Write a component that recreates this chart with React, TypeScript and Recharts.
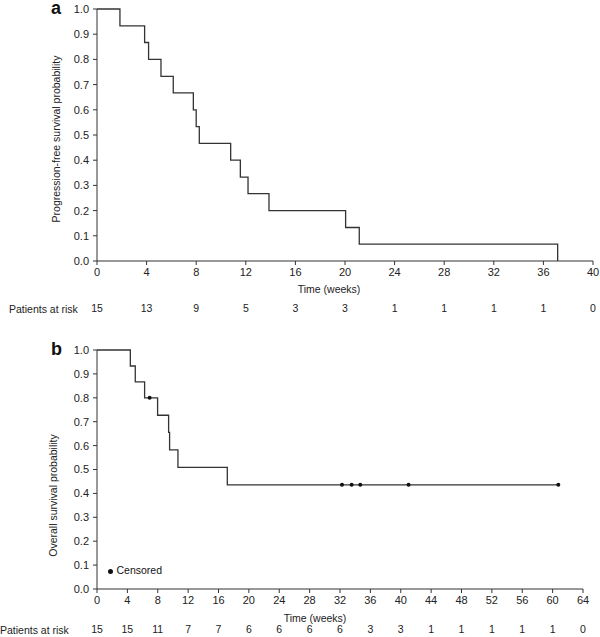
import { ComposedChart, Line, Scatter, XAxis, YAxis, Legend, Label } from "recharts";

// panel a: progression-free survival
const pfsTime = [0, 1.85, 3.84, 4.16, 5.16, 6.15, 7.77, 8.0, 8.25, 10.78, 11.56, 12.18, 13.87, 20.05, 21.15, 37.15];
const pfsSurv = [1, 0.933, 0.867, 0.8, 0.733, 0.667, 0.6, 0.533, 0.467, 0.4, 0.333, 0.267, 0.2, 0.133, 0.067, 0];
const pfsTicks = [0, 4, 8, 12, 16, 20, 24, 28, 32, 36, 40];
const pfsAtRisk = [15, 13, 9, 5, 3, 3, 1, 1, 1, 1, 0];

// panel b: overall survival
const osTime = [0, 4.39, 5.04, 6.27, 7.98, 9.43, 9.56, 10.66, 17.16, 60.75];
const osSurv = [1, 0.933, 0.867, 0.8, 0.727, 0.655, 0.582, 0.509, 0.436, 0.436];
const osCensorTime = [6.93, 32.26, 33.53, 34.67, 41.03, 60.75];
const osCensorSurv = [0.8, 0.436, 0.436, 0.436, 0.436, 0.436];
const osTicks = [0, 4, 8, 12, 16, 20, 24, 28, 32, 36, 40, 44, 48, 52, 56, 60, 64];
const osAtRisk = [15, 15, 11, 7, 7, 6, 6, 6, 6, 3, 3, 1, 1, 1, 1, 1, 0];

const yTicks = [0, 0.1, 0.2, 0.3, 0.4, 0.5, 0.6, 0.7, 0.8, 0.9, 1];

const INK = "#333";
const FONT = "'Liberation Sans', Arial, sans-serif";

function KMPanel({
  top,
  height,
  margin,
  time,
  surv,
  ticks,
  atRisk,
  yTitle,
  titleDx,
  titleDy,
  xTitleDx,
  xTitleBase,
  mainAxisH,
  riskAxisH,
  riskMargin,
  riskLabelX,
  censorTime,
  censorSurv,
}: {
  top: number;
  height: number;
  margin: { top: number; right: number; bottom: number; left: number };
  time: number[];
  surv: number[];
  ticks: number[];
  atRisk: number[];
  yTitle: string;
  titleDx: number;
  titleDy: number;
  xTitleDx: number;
  xTitleBase: number;
  mainAxisH: number;
  riskAxisH: number;
  riskMargin: number;
  riskLabelX: number;
  censorTime?: number[];
  censorSurv?: number[];
}) {
  const rows = time.map((t, i) => ({ t, s: surv[i] }));
  const censored = censorTime ? censorTime.map((t, i) => ({ t, s: censorSurv![i] })) : null;
  const xMax = ticks[ticks.length - 1];

  return (
    <div style={{ position: "absolute", left: 0, top, width: 600, height }}>
      <ComposedChart width={600} height={height} margin={margin}>
        <XAxis
          dataKey="t"
          type="number"
          domain={[0, xMax]}
          ticks={ticks}
          interval={0}
          height={mainAxisH}
          tickSize={4}
          tickMargin={3.5}
          stroke={INK}
          tick={{ fontSize: 11, fill: "#222" }}
        >
          <Label
            content={(p: any) => {
              const vb = p.viewBox || {};
              return (
                <text
                  x={vb.x + vb.width / 2 + xTitleDx}
                  y={vb.y + xTitleBase}
                  textAnchor="middle"
                  fontSize={10.5}
                  fill="#222"
                >
                  Time (weeks)
                </text>
              );
            }}
          />
        </XAxis>
        <XAxis
          xAxisId="risk"
          dataKey="t"
          type="number"
          domain={[0, xMax]}
          ticks={ticks}
          interval={0}
          height={riskAxisH}
          axisLine={false}
          tickLine={false}
          tickSize={0}
          tickMargin={riskMargin}
          tickFormatter={(v: number) => String(atRisk[ticks.indexOf(v)])}
          tick={{ fontSize: 10.5, fill: "#222" }}
        >
          <Label
            content={(p: any) => {
              const vb = p.viewBox || {};
              return (
                <text x={riskLabelX} y={vb.y + riskMargin + 4} fontSize={10.5} fill="#222" dominantBaseline="central">
                  Patients at risk
                </text>
              );
            }}
          />
        </XAxis>
        <YAxis
          type="number"
          domain={[0, 1]}
          ticks={yTicks}
          interval={0}
          width={40}
          tickSize={4}
          tickMargin={4}
          stroke={INK}
          tick={{ fontSize: 11, fill: "#222" }}
          tickFormatter={(v: number) => v.toFixed(1)}
        >
          <Label
            content={(p: any) => {
              const vb = p.viewBox || {};
              const x = vb.x + titleDx;
              const y = vb.y + vb.height / 2 + titleDy;
              return (
                <text
                  x={x}
                  y={y}
                  transform={`rotate(-90 ${x} ${y})`}
                  textAnchor="middle"
                  dominantBaseline="central"
                  fontSize={10.5}
                  fill="#222"
                >
                  {yTitle}
                </text>
              );
            }}
          />
        </YAxis>
        {/* invisible copy bound to the risk axis so it gets a domain and ticks */}
        <Line
          xAxisId="risk"
          data={rows}
          dataKey="s"
          stroke="none"
          dot={false}
          legendType="none"
          isAnimationActive={false}
        />
        <Line
          data={rows}
          dataKey="s"
          type="stepAfter"
          stroke={INK}
          strokeWidth={1.3}
          dot={false}
          legendType="none"
          isAnimationActive={false}
        />
        {censored && (
          <Scatter
            name="Censored"
            data={censored}
            dataKey="s"
            fill="#111"
            legendType="circle"
            isAnimationActive={false}
            shape={(p: any) => <circle cx={p.cx} cy={p.cy} r={2} fill="#111" />}
          />
        )}
        {censored && (
          <Legend
            layout="horizontal"
            verticalAlign="middle"
            align="center"
            iconType="circle"
            iconSize={5}
            wrapperStyle={{ left: 107.5, top: 234, width: "auto", fontSize: 10.5, lineHeight: "12px" }}
          />
        )}
      </ComposedChart>
    </div>
  );
}

export default function App() {
  return (
    <div
      style={{
        position: "absolute",
        left: 0,
        top: 0,
        width: 600,
        height: 637,
        background: "#fff",
        fontFamily: FONT,
        color: "#222",
      }}
    >
      <KMPanel
        top={0}
        height={330}
        margin={{ top: 9, right: 7, bottom: 13, left: 57 }}
        time={pfsTime}
        surv={pfsSurv}
        ticks={pfsTicks}
        atRisk={pfsAtRisk}
        yTitle="Progression-free survival probability"
        titleDx={-1}
        titleDy={4}
        xTitleDx={-16}
        xTitleBase={32}
        mainAxisH={34}
        riskAxisH={22}
        riskMargin={10}
        riskLabelX={9}
      />
      <KMPanel
        top={330}
        height={307}
        margin={{ top: 20, right: 17, bottom: 2, left: 57 }}
        time={osTime}
        surv={osSurv}
        ticks={osTicks}
        atRisk={osAtRisk}
        yTitle="Overall survival probability"
        titleDx={-4}
        titleDy={26}
        xTitleDx={-25}
        xTitleBase={33}
        mainAxisH={32}
        riskAxisH={14}
        riskMargin={5}
        riskLabelX={0}
        censorTime={osCensorTime}
        censorSurv={osCensorSurv}
      />
      <div style={{ position: "absolute", left: 51, top: 1, fontSize: 18, lineHeight: "14px", fontWeight: "bold", color: "#111" }}>a</div>
      <div style={{ position: "absolute", left: 51, top: 342, fontSize: 18, lineHeight: "14px", fontWeight: "bold", color: "#111" }}>b</div>
    </div>
  );
}
